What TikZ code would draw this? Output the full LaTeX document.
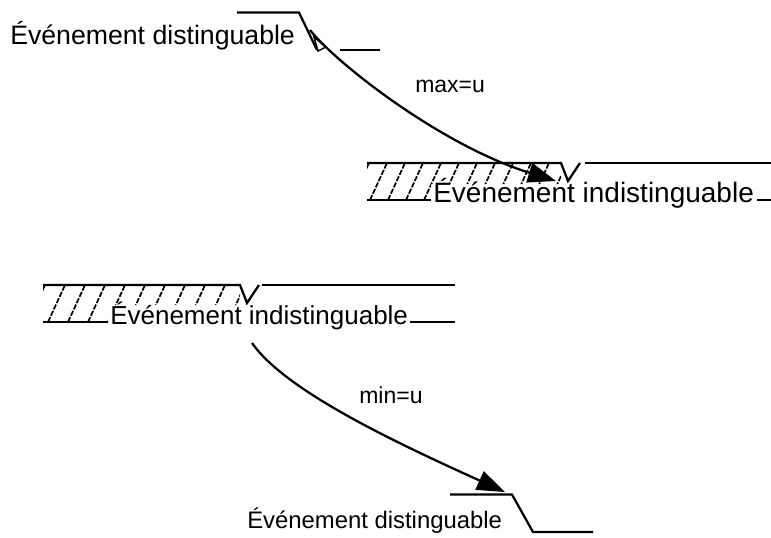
\documentclass[tikz,border=0pt]{standalone}
\usepackage{fontspec}
\setmainfont{Liberation Sans}
\usetikzlibrary{arrows.meta}
\begin{document}
\begin{tikzpicture}[x=0.75pt,y=-0.75pt,
  edge/.style={line width=1.7pt, line join=miter},
  hatch/.style={line width=1.3pt, dash pattern=on 4pt off 1.2pt},
  conn/.style={line width=1.7pt, -{Triangle[length=21pt,width=15pt]}},
  evt/.style={inner sep=0pt, anchor=base west},
  lbl/.style={inner sep=0pt, anchor=base west, font=\fontsize{17.25pt}{20pt}\selectfont}]
\useasboundingbox (0,0) rectangle (771,537);

% ---- texts
\node[evt,font=\fontsize{20pt}{24pt}\selectfont] (d1) at (10,44) {Événement distinguable};
\node[evt,font=\fontsize{21pt}{25pt}\selectfont] (i1) at (433,202) {Événement indistinguable};
\node[evt,font=\fontsize{19.5pt}{23pt}\selectfont] (i2) at (110,324) {Événement indistinguable};
\node[evt,font=\fontsize{17.9pt}{21pt}\selectfont] (d2) at (247,528) {Événement distinguable};
\node[lbl] (mx) at (415,92) {max=u};
\node[lbl] (mn) at (359,403) {min=u};

% ---- upper distinguable event (falling edge)
\draw[edge] (237,12.5) -- (299,12.5) -- (317,50);
\draw[edge] (340,50) -- (380,50);

% ---- upper indistinguable event
\draw[edge] (367,163) -- (561,163) -- (568,181) -- (580,163);
\draw[edge] (585,163) -- (771,163);
\draw[edge] (367,200) -- (431,200);
\draw[edge] (757,200) -- (771,200);
\begin{scope}
  \clip (367,163) -- (561,163) -- (561,184) -- (431,184) -- (431,200) -- (367,200) -- cycle;
  \foreach \i in {0,...,11} \draw[hatch] (352+\i*18,200) -- ++(17,-37);
\end{scope}

% ---- lower indistinguable event
\draw[edge] (43,285) -- (240,285) -- (247,303) -- (259,285);
\draw[edge] (262,285) -- (455,285);
\draw[edge] (43,322) -- (108,322);
\draw[edge] (410,322) -- (455,322);
\begin{scope}
  \clip (43,285) -- (240,285) -- (240,305) -- (108,305) -- (108,322) -- (43,322) -- cycle;
  \foreach \i in {0,...,10} \draw[hatch] (28+\i*20,322) -- ++(17,-37);
\end{scope}

% ---- bottom distinguable event
\draw[edge] (450,494.5) -- (512,494.5) -- (533,532) -- (593,532);

% ---- connectors
\coordinate (s1) at (310,30);
\coordinate (e1) at (556,181);
\coordinate (s2) at (252,343);
\coordinate (e2) at (505,492);
\draw[conn] (s1) .. controls (335,62) and (440,145) .. (e1);
\draw[line width=1.1pt, line join=miter] (314,37) -- (326,47) -- (318,51) -- cycle;
\draw[conn] (s2) .. controls (285,390) and (390,440) .. (e2);
\end{tikzpicture}
\end{document}
